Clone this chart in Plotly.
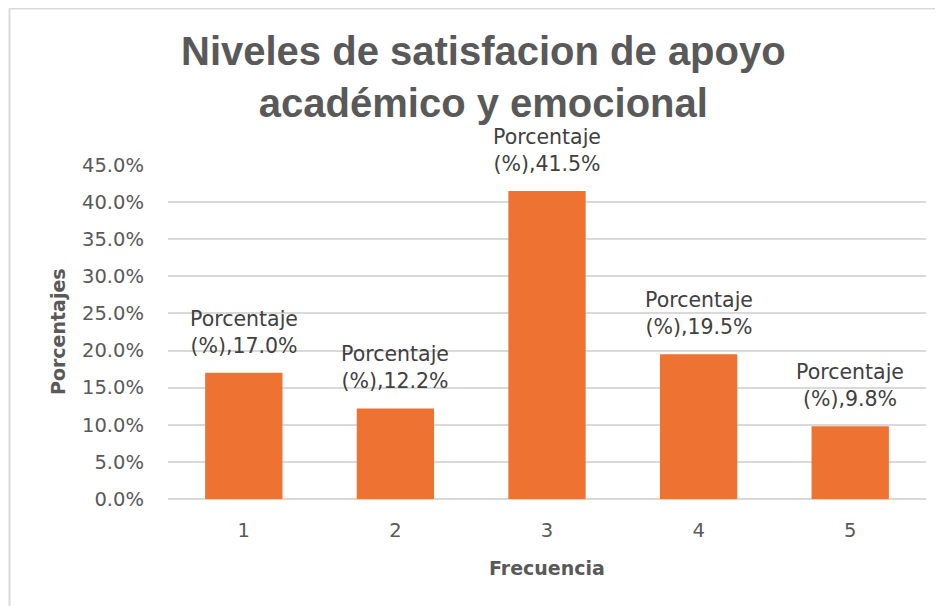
import plotly.graph_objects as go

categories = ["1", "2", "3", "4", "5"]
values = [17.0, 12.2, 41.5, 19.5, 9.8]
series_name = "Porcentaje (%)"
y_ticks = [0, 5, 10, 15, 20, 25, 30, 35, 40, 45]
y_tick_labels = [f"{v:.1f}%" for v in y_ticks]

title_lines = ["Niveles de satisfacion de apoyo", "académico y emocional"]
x_title = "Frecuencia"
y_title = "Porcentajes"

TEXT = "#595959"
LABEL = "#404040"
GRID = "#D9D9D9"
TITLE_FONT = "Liberation Sans, Arial, sans-serif"
FONT = "DejaVu Sans, sans-serif"

# figure sits inside the page body (8px body margin)
W, H = 935, 598
L, R, T, B = 160, 17, 157, 107
pw, ph = W - L - R, H - T - B


def px_x(p):
    return (p - L) / pw


def px_y(p):
    return (H - B - p) / ph


fig = go.Figure()
fig.add_trace(go.Bar(
    x=categories, y=values, name=series_name,
    marker=dict(color="#EE7231", line=dict(width=0)),
    hoverinfo="skip",
))

word, unit = series_name.split(" ")
for i, v in enumerate(values):
    fig.add_annotation(
        x=i, y=v, xref="x", yref="y",
        text=f"{word}<br>{unit},{v:.1f}%",
        showarrow=False, yanchor="bottom", yshift=13,
        font=dict(family=FONT, size=20.5, color=LABEL),
    )

# chart title
fig.add_annotation(x=px_x(475), y=px_y(19), xref="paper", yref="paper",
                   text="<b>" + "<br>".join(title_lines) + "</b>",
                   showarrow=False, xanchor="center", yanchor="top",
                   font=dict(family=TITLE_FONT, size=40, color=TEXT))

# axis titles
fig.add_annotation(x=0.5, y=px_y(560), xref="paper", yref="paper", text=f"<b>{x_title}</b>",
                   showarrow=False, yanchor="middle",
                   font=dict(family=FONT, size=19, color=TEXT))
fig.add_annotation(x=px_x(50), y=0.5, xref="paper", yref="paper",
                   text=f"<b>{y_title}</b>", textangle=-90, showarrow=False,
                   xanchor="center", yanchor="middle",
                   font=dict(family=FONT, size=19, color=TEXT))

# chart-area border (top and left edges visible)
fig.add_shape(type="line", xref="paper", yref="paper",
              x0=px_x(1.5), x1=px_x(W + 10), y0=px_y(0.5), y1=px_y(0.5),
              line=dict(color=GRID, width=2))
fig.add_shape(type="line", xref="paper", yref="paper",
              x0=px_x(1.5), x1=px_x(1.5), y0=px_y(0.5), y1=px_y(H + 10),
              line=dict(color=GRID, width=2))

fig.update_layout(
    width=W, height=H,
    margin=dict(l=L, r=R, t=T, b=B, autoexpand=False),
    paper_bgcolor="white", plot_bgcolor="white",
    showlegend=False,
    bargap=0.49,
    font=dict(family=FONT, color=TEXT),
)
fig.update_xaxes(
    type="category", showgrid=False, zeroline=False, showline=False,
    ticks="", ticklabelstandoff=17,
    tickfont=dict(family=FONT, size=19.5, color=TEXT),
)
fig.update_yaxes(
    range=[0, 45], tickvals=y_ticks, ticktext=y_tick_labels,
    showgrid=True, gridcolor=GRID, gridwidth=1.5,
    zeroline=True, zerolinecolor=GRID, zerolinewidth=1.5,
    showline=False, ticks="", ticklabelstandoff=23,
    tickfont=dict(family=FONT, size=19.5, color=TEXT),
)

fig.write_html("out.html")
